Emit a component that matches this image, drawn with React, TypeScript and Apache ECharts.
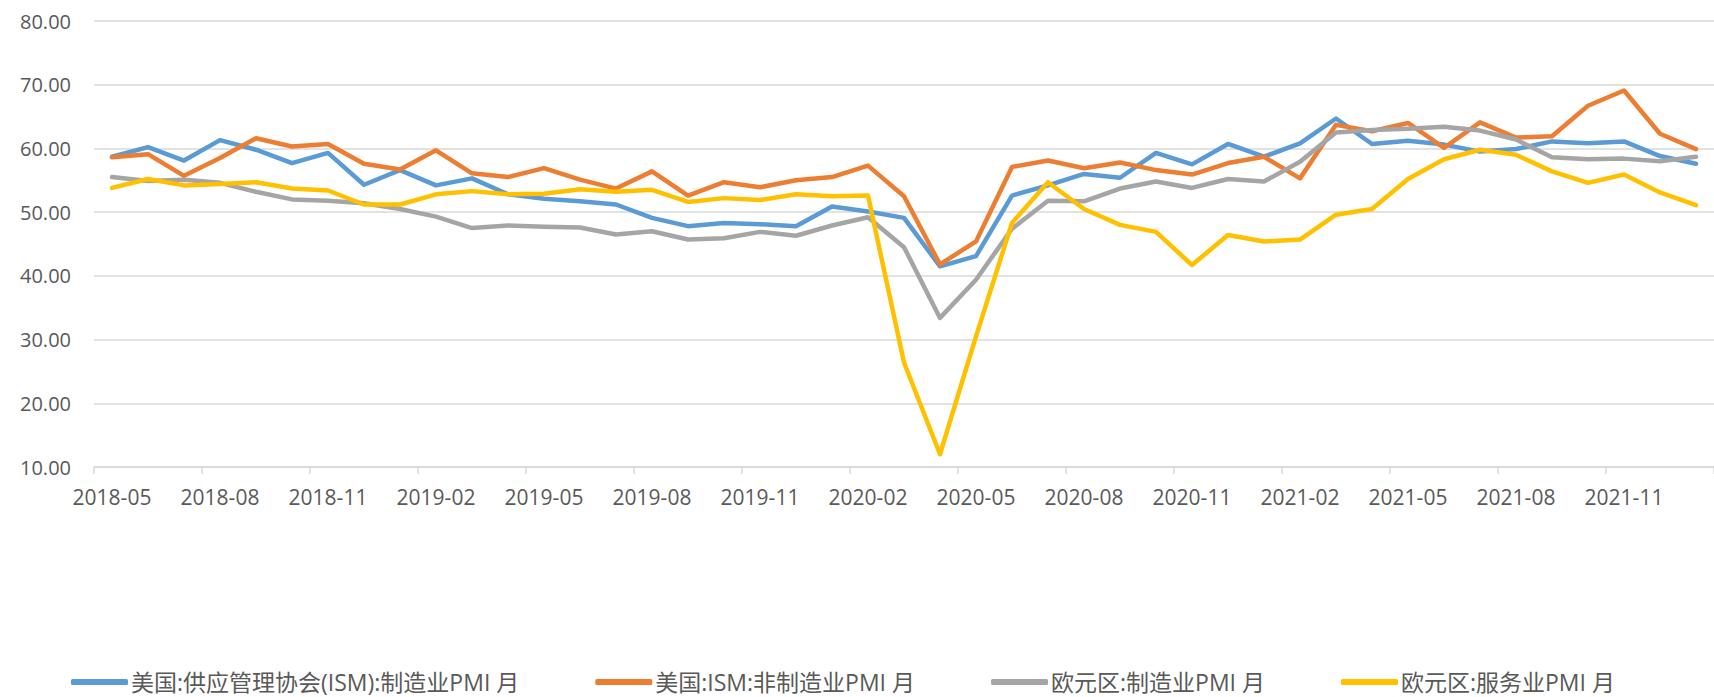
import React, { useEffect, useRef } from "react";
import * as echarts from "echarts";

const months: string[] = [
  "2018-05","2018-06","2018-07","2018-08","2018-09","2018-10","2018-11","2018-12",
  "2019-01","2019-02","2019-03","2019-04","2019-05","2019-06","2019-07","2019-08","2019-09","2019-10","2019-11","2019-12",
  "2020-01","2020-02","2020-03","2020-04","2020-05","2020-06","2020-07","2020-08","2020-09","2020-10","2020-11","2020-12",
  "2021-01","2021-02","2021-03","2021-04","2021-05","2021-06","2021-07","2021-08","2021-09","2021-10","2021-11","2021-12",
  "2022-01",
];

const usMfg: number[] = [
  58.7, 60.2, 58.1, 61.3, 59.8, 57.7, 59.3, 54.3,
  56.6, 54.2, 55.3, 52.8, 52.1, 51.7, 51.2, 49.1, 47.8, 48.3, 48.1, 47.8,
  50.9, 50.1, 49.1, 41.5, 43.1, 52.6, 54.2, 56.0, 55.4, 59.3, 57.5, 60.7,
  58.7, 60.8, 64.7, 60.7, 61.2, 60.6, 59.5, 59.9, 61.1, 60.8, 61.1, 58.8,
  57.6,
];

const usNonMfg: number[] = [
  58.6, 59.1, 55.7, 58.5, 61.6, 60.3, 60.7, 57.6,
  56.7, 59.7, 56.1, 55.5, 56.9, 55.1, 53.7, 56.4, 52.6, 54.7, 53.9, 55.0,
  55.5, 57.3, 52.5, 41.8, 45.4, 57.1, 58.1, 56.9, 57.8, 56.6, 55.9, 57.7,
  58.7, 55.3, 63.7, 62.7, 64.0, 60.1, 64.1, 61.7, 61.9, 66.7, 69.1, 62.3,
  59.9,
];

const euMfg: number[] = [
  55.5, 54.9, 55.1, 54.6, 53.2, 52.0, 51.8, 51.4,
  50.5, 49.3, 47.5, 47.9, 47.7, 47.6, 46.5, 47.0, 45.7, 45.9, 46.9, 46.3,
  47.9, 49.2, 44.5, 33.4, 39.4, 47.4, 51.8, 51.7, 53.7, 54.8, 53.8, 55.2,
  54.8, 57.9, 62.5, 62.9, 63.1, 63.4, 62.8, 61.4, 58.6, 58.3, 58.4, 58.0,
  58.7,
];

const euSvc: number[] = [
  53.8, 55.2, 54.2, 54.4, 54.7, 53.7, 53.4, 51.2,
  51.2, 52.8, 53.3, 52.8, 52.9, 53.6, 53.2, 53.5, 51.6, 52.2, 51.9, 52.8,
  52.5, 52.6, 26.4, 12.0, 30.5, 48.3, 54.7, 50.5, 48.0, 46.9, 41.7, 46.4,
  45.4, 45.7, 49.6, 50.5, 55.2, 58.3, 59.8, 59.0, 56.4, 54.6, 55.9, 53.1,
  51.1,
];

const seriesNames: string[] = [
  "美国:供应管理协会(ISM):制造业PMI 月",
  "美国:ISM:非制造业PMI 月",
  "欧元区:制造业PMI 月",
  "欧元区:服务业PMI 月",
];

const colors: string[] = ["#5B9BD5", "#ED7D31", "#A5A5A5", "#FFC000"];

const FONT = "'Open Sans', 'Noto Sans CJK SC', sans-serif";

export default function App() {
  const ref = useRef<HTMLDivElement>(null);
  useEffect(() => {
    if (!ref.current) return;
    const chart = echarts.init(ref.current, null, { renderer: "svg" });
    const datas = [usMfg, usNonMfg, euMfg, euSvc];
    chart.setOption({
      animation: false,
      color: colors,
      textStyle: { fontFamily: FONT },
      grid: { left: 94, right: -7, top: 21, bottom: 230, containLabel: false },
      legend: {
        data: seriesNames,
        left: 66,
        top: 662,
        itemGap: 76,
        itemWidth: 57,
        itemHeight: 6,
        icon: "roundRect",
        textStyle: { fontSize: 23, lineHeight: 30, color: "#595959", fontFamily: FONT, padding: [0, 0, 0, -2] },
      },
      xAxis: {
        type: "category",
        data: months,
        boundaryGap: true,
        axisLine: { lineStyle: { color: "#D9D9D9", width: 1.5 } },
        axisTick: { show: true, interval: 2, length: 7, lineStyle: { color: "#D9D9D9", width: 1.5 } },
        axisLabel: { interval: 2, fontSize: 21, color: "#595959", margin: 19, fontFamily: FONT },
        splitLine: { show: false },
      },
      yAxis: {
        type: "value",
        min: 10,
        max: 80,
        interval: 10,
        axisLine: { show: false },
        axisTick: { show: false },
        axisLabel: {
          fontSize: 20,
          color: "#595959",
          margin: 23,
          fontFamily: FONT,
          formatter: (v: number) => v.toFixed(2),
        },
        splitLine: { lineStyle: { color: "#D9D9D9", width: 1.5 } },
      },
      series: seriesNames.map((name, i) => ({
        name,
        type: "line",
        data: datas[i],
        showSymbol: false,
        symbol: "none",
        lineStyle: { width: 4.5, color: colors[i], cap: "round", join: "round" },
        itemStyle: { color: colors[i] },
        z: 2 + i,
      })),
    });
    return () => chart.dispose();
  }, []);
  return (
    <div
      ref={ref}
      style={{ position: "fixed", left: 0, top: 0, width: 1714, height: 697, background: "#fff" }}
    />
  );
}
